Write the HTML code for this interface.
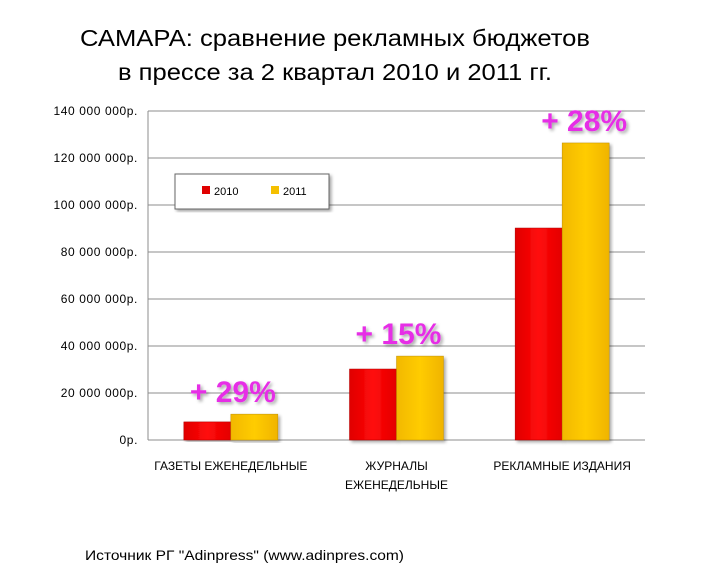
<!DOCTYPE html>
<html><head><meta charset="utf-8"><style>
body{margin:0;background:#fff;width:718px;height:583px;overflow:hidden;font-family:"Liberation Sans","DejaVu Sans",sans-serif}
</style></head><body>
<svg id="c" width="718" height="583" xmlns="http://www.w3.org/2000/svg">
<defs>
<linearGradient id="gr" x1="0" x2="1"><stop offset="0" stop-color="#e00000"/><stop offset="0.5" stop-color="#ff0a0a"/><stop offset="1" stop-color="#e40000"/></linearGradient>
<linearGradient id="gy" x1="0" x2="1"><stop offset="0" stop-color="#f2b800"/><stop offset="0.5" stop-color="#ffcc00"/><stop offset="1" stop-color="#f0b400"/></linearGradient>
<filter id="sh"><feDropShadow dx="2" dy="2" stdDeviation="1.5" flood-opacity="0.35"/></filter>
</defs>
<text x="80" y="46" textLength="510" lengthAdjust="spacingAndGlyphs" font-size="23" fill="#000">САМАРА: сравнение рекламных бюджетов</text>
<text x="118" y="80" textLength="434" lengthAdjust="spacingAndGlyphs" font-size="23" fill="#000">в прессе за 2 квартал 2010 и 2011 гг.</text>
<g id="grid"></g><g id="bars"></g><g id="labels"></g>
<g filter="url(#sh)">
<rect x="175" y="174" width="154" height="35" fill="#fff" stroke="#666" stroke-width="1"/>
</g>
<rect x="202" y="186" width="8" height="8" fill="#e00000"/>
<text x="214" y="195" font-size="11" fill="#000">2010</text>
<rect x="271" y="186" width="8" height="8" fill="#f5c000"/>
<text x="283" y="195" font-size="11" fill="#000">2011</text>
<text x="85" y="560" textLength="319" lengthAdjust="spacingAndGlyphs" font-size="14" fill="#000">Источник РГ "Adinpress" (www.adinpres.com)</text>
</svg>
<script>
const categories=[["ГАЗЕТЫ ЕЖЕНЕДЕЛЬНЫЕ"],["ЖУРНАЛЫ","ЕЖЕНЕДЕЛЬНЫЕ"],["РЕКЛАМНЫЕ ИЗДАНИЯ"]];
const values2010=[7.7,30.2,90.2];
const values2011=[11.0,35.7,126.4];
const growthLabels=["+ 29%","+ 15%","+ 28%"];
const tickValues=[0,20,40,60,80,100,120,140];
const tickLabels=["0р.","20 000 000р.","40 000 000р.","60 000 000р.","80 000 000р.","100 000 000р.","120 000 000р.","140 000 000р."];
const NS="http://www.w3.org/2000/svg";
const L=148,R=645,T=111,B=440,MAX=140;
const y=v=>B-(v/MAX)*(B-T);
const band=(R-L)/categories.length;
const xc=i=>L+band*(i+0.5);
function mk(tag,attrs,parent,text){const e=document.createElementNS(NS,tag);for(const k in attrs)e.setAttribute(k,attrs[k]);if(text!==undefined)e.textContent=text;document.getElementById(parent).appendChild(e);return e;}
tickValues.forEach((v,i)=>{
 const g=mk('line',{x1:L,x2:R,y1:y(v),y2:y(v),stroke:'#8c8c8c','stroke-width':1},'grid');
 
 
 const t=mk('text',{x:138,y:y(v)+4,'text-anchor':'end','font-size':12,'letter-spacing':0.6,fill:'#000'},'grid',tickLabels[i]);
 
 
});
const ax=mk('line',{x1:L,x2:L,y1:T,y2:B,stroke:'#8c8c8c'},'grid');


const bw=47;
categories.forEach((c,i)=>{
 const cx=xc(i);
 const r=mk('rect',{x:cx-bw,y:y(values2010[i]),width:bw,height:B-y(values2010[i]),fill:'url(#gr)',stroke:'#b00000','stroke-width':0.5,filter:'url(#sh)'},'bars');
 
 
 const yb=mk('rect',{x:cx,y:y(values2011[i]),width:bw,height:B-y(values2011[i]),fill:'url(#gy)',stroke:'#c09000','stroke-width':0.5,filter:'url(#sh)'},'bars');
 
 
 c.forEach((ln,j)=>{
  const t=mk('text',{x:cx,y:470+j*19,'text-anchor':'middle','font-size':12,fill:'#000'},'labels',ln);
  
  
 });
 const top=Math.max(values2010[i],values2011[i]);
 const g=mk('text',{x:cx+(i==2?22:2),y:y(top)-12,'text-anchor':'middle','font-size':30,'font-weight':'bold',fill:'#e62ee6',filter:'url(#sh)'},'labels',growthLabels[i]);
 
 
});
</script>
</body></html>
